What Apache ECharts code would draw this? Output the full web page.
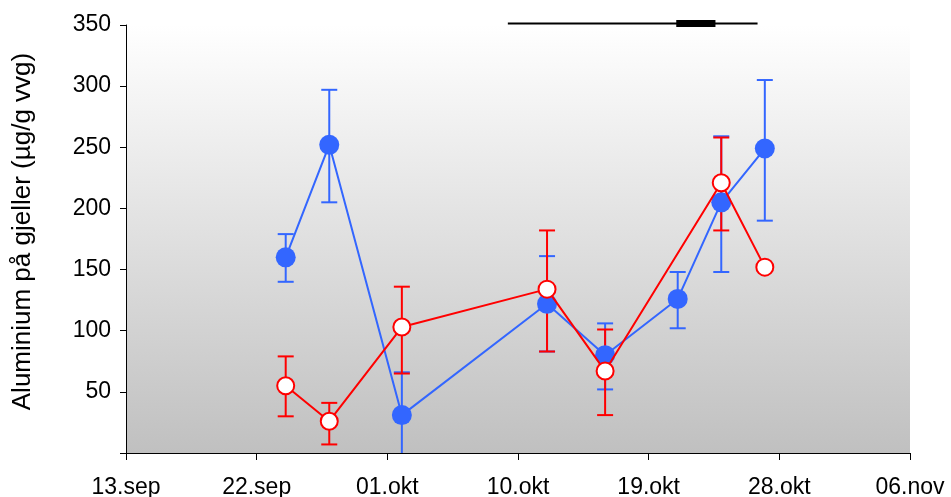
<!DOCTYPE html>
<html>
<head>
<meta charset="utf-8">
<script src="https://cdn.jsdelivr.net/npm/echarts@6/dist/echarts.min.js"></script>
<style>
html,body{margin:0;padding:0;background:#fff;}
#chart{width:951px;height:497px;}
</style>
</head>
<body>
<div id="chart"></div>
<script>
// ---- data ----
const xTickLabels = ['13.sep','22.sep','01.okt','10.okt','19.okt','28.okt','06.nov'];
const yTicks = [0, 50, 100, 150, 200, 250, 300, 350];

const blueDates = ['24.sep','27.sep','02.okt','12.okt','16.okt','21.okt','24.okt','27.okt'];
const blueMean  = [160, 252, 31, 122, 80, 126, 205, 249];
const blueLow   = [140, 205, -4, 83, 52, 102, 148, 190];
const blueHigh  = [179, 297, 66, 161, 106, 148, 259, 305];

const redDates = ['24.sep','27.sep','02.okt','12.okt','16.okt','24.okt','27.okt'];
const redMean  = [55, 26, 103, 134, 67, 221, 152];
const redLow   = [30, 7, 65, 83, 31, 182, null];
const redHigh  = [79, 41, 136, 182, 101, 258, null];

// period bar at top (days after 13.sep)
const periodThin  = [26.3, 43.5];
const periodThick = [37.9, 40.6];
const periodLevel = 351.3;

// ---- helpers ----
const monthIdx = {sep: 8, okt: 9, nov: 10};
const START = Date.UTC(2000, 8, 13);
function dayOf(s) {
  const [d, m] = s.split('.');
  return (Date.UTC(2000, monthIdx[m], +d) - START) / 864e5;
}
const BLUE = '#3366ff', RED = '#ff0000';
const FONT = 'Liberation Sans, Arial, sans-serif';

function errData(dates, lo, hi) {
  const out = [];
  dates.forEach((d, i) => { if (lo[i] != null && hi[i] != null) out.push([dayOf(d), lo[i], hi[i]]); });
  return out;
}
function errRender(color) {
  return function (params, api) {
    const x = api.value(0), lo = api.value(1), hi = api.value(2);
    const pH = api.coord([x, hi]), pL = api.coord([x, lo]);
    const cs = params.coordSys;
    const bottom = cs.y + cs.height;
    const yL = Math.min(pL[1], bottom);
    const st = {stroke: color, lineWidth: 2};
    const w = 8;
    const ch = [
      {type: 'line', shape: {x1: pH[0], y1: pH[1], x2: pH[0], y2: yL}, style: st},
      {type: 'line', shape: {x1: pH[0] - w, y1: pH[1], x2: pH[0] + w, y2: pH[1]}, style: st}
    ];
    if (pL[1] <= bottom) ch.push({type: 'line', shape: {x1: pL[0] - w, y1: pL[1], x2: pL[0] + w, y2: pL[1]}, style: st});
    return {type: 'group', children: ch};
  };
}

const chart = echarts.init(document.getElementById('chart'), null, {renderer: 'canvas'});
chart.setOption({
  animation: false,
  backgroundColor: '#ffffff',
  grid: {
    left: 126, right: 41, top: 25, bottom: 44, show: true, borderWidth: 0,
    containLabel: false, outerBoundsMode: 'none',
    backgroundColor: {type: 'linear', x: 0, y: 0, x2: 0, y2: 1,
      colorStops: [{offset: 0, color: '#ffffff'}, {offset: 1, color: '#c0c0c0'}]}
  },
  xAxis: {
    type: 'value', min: 0, max: 54, interval: 9,
    axisLine: {show: true, lineStyle: {color: '#000', width: 1}},
    axisTick: {show: true, inside: false, length: 7, lineStyle: {color: '#000'}},
    axisLabel: {color: '#000', fontSize: 23, fontFamily: FONT, margin: 23,
      formatter: v => xTickLabels[Math.round(v / 9)] || ''},
    splitLine: {show: false}
  },
  yAxis: {
    type: 'value', min: yTicks[0], max: yTicks[yTicks.length - 1], interval: 50,
    name: 'Aluminium på gjeller (µg/g vvg)',
    nameLocation: 'middle', nameGap: 90, nameRotate: 90,
    nameTextStyle: {color: '#000', fontSize: 26, fontFamily: FONT, padding: [0, 0, 0, 15]},
    axisLine: {show: true, lineStyle: {color: '#000', width: 1}},
    axisTick: {show: true, inside: false, length: 6, lineStyle: {color: '#000'}},
    axisLabel: {color: '#000', fontSize: 23, fontFamily: FONT, margin: 15,
      formatter: v => v === 0 ? '' : String(v)},
    splitLine: {show: false}
  },
  series: [
    {type: 'custom', z: 1, renderItem: errRender(BLUE), data: errData(blueDates, blueLow, blueHigh),
      encode: {x: 0, y: [1, 2]}, clip: false},
    {type: 'custom', z: 2, renderItem: errRender(RED), data: errData(redDates, redLow, redHigh),
      encode: {x: 0, y: [1, 2]}, clip: false},
    {type: 'line', z: 3, data: blueDates.map((d, i) => [dayOf(d), blueMean[i]]),
      symbol: 'circle', symbolSize: 20,
      itemStyle: {color: BLUE, borderWidth: 0},
      lineStyle: {color: BLUE, width: 2}},
    {type: 'line', z: 4, data: redDates.map((d, i) => [dayOf(d), redMean[i]]),
      symbol: 'circle', symbolSize: 17,
      itemStyle: {color: '#ffffff', borderColor: RED, borderWidth: 2},
      lineStyle: {color: RED, width: 2}},
    {type: 'line', z: 5, clip: false, symbol: 'none',
      data: periodThin.map(v => [v, periodLevel]),
      lineStyle: {color: '#000', width: 2, cap: 'butt'}},
    {type: 'line', z: 6, clip: false, symbol: 'none',
      data: periodThick.map(v => [v, periodLevel]),
      lineStyle: {color: '#000', width: 7, cap: 'butt'}}
  ]
});
</script>
</body>
</html>
